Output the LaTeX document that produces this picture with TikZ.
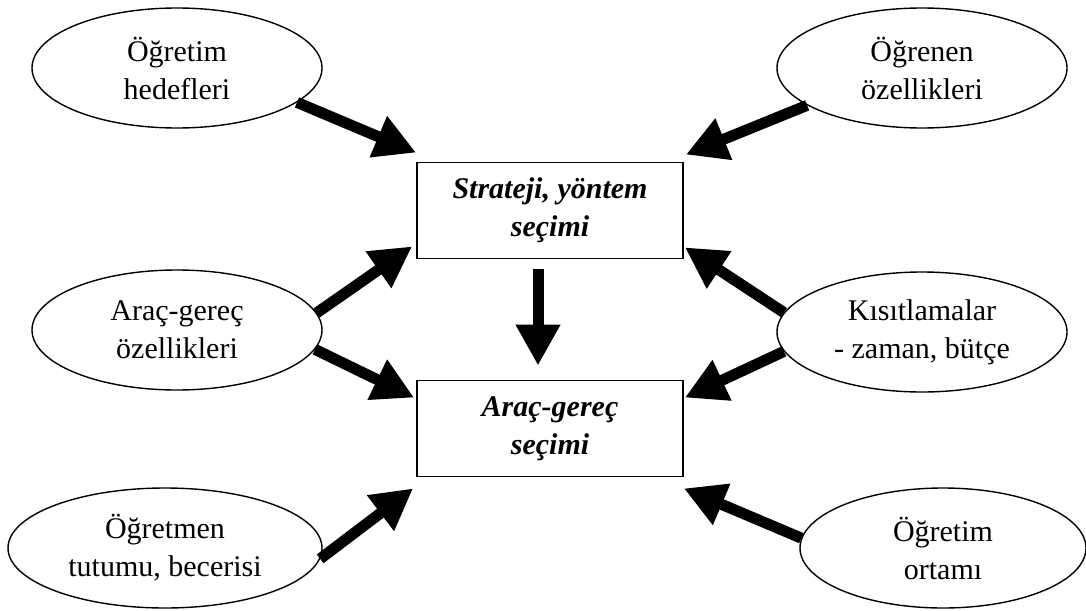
\documentclass[tikz,border=0pt]{standalone}
\usepackage{fontspec}
\setmainfont{Liberation Serif}
\usetikzlibrary{arrows.meta,calc,shapes.geometric}
\begin{document}
\begin{tikzpicture}[x=1pt,y=-1pt,
  oval/.style={ellipse,draw,line width=1.4pt,inner sep=0pt,
    minimum width=290pt,minimum height=120pt,align=center,
    font=\fontsize{30}{38}\selectfont},
  choice/.style={rectangle,draw,line width=1.8pt,inner sep=0pt,
    minimum width=266pt,minimum height=96pt,align=center,
    font=\fontsize{30}{38}\selectfont\bfseries\itshape},
  bigarrow/.style={line width=11pt,-{Triangle[length=41pt,width=42pt]}}]

\useasboundingbox (0,0) rectangle (1086,610);

% factors
\node[oval] (e1) at (177,68) {Öğretim\\hedefleri};
\node[oval] (e2) at (922,68) {Öğrenen\\özellikleri};
\node[oval] (e3) at (177,330) {Araç-gereç\\özellikleri};
\node[oval] (e4) at (922,332) {Kısıtlamalar\\- zaman, bütçe};
\node[oval,minimum width=314pt] (e5) at (165,548) {Öğretmen\\tutumu, becerisi};
\node[oval,minimum width=286pt] (e6) at (943,548) {Öğretim\\ortamı};

% decisions
\node[choice] (s1) at (550,210.5) {Strateji, yöntem\\seçimi};
\node[choice] (s2) at (550,428.5) {Araç-gereç\\seçimi};

% arrow tips beside the boxes
\coordinate (t1) at ($(s1.north west)+(0,-9)$);
\coordinate (t2) at ($(s1.north east)+(2,-7)$);
\coordinate (t3) at ($(s1.south west)+(-4,-13)$);
\coordinate (t5) at ($(s1.south east)+(1,-12)$);
\coordinate (t4) at ($(s2.north west)+(-2,18)$);
\coordinate (t6) at ($(s2.north east)+(1,18)$);
\coordinate (t7) at ($(s2.south west)+(-3,11)$);
\coordinate (t8) at ($(s2.south east)+(0,11)$);

\draw[bigarrow] (e1.-16) -- (t1);
\draw[bigarrow] (e2.198) -- (t2);
\draw[bigarrow] (e3.7) -- (t3);
\draw[bigarrow] (e3.-8) -- (t4);
\draw[bigarrow] (e4.172) -- (t5);
\draw[bigarrow] (e4.188) -- (t6);
\draw[bigarrow] (e5.-4) -- (t7);
\draw[bigarrow] (e6.176) -- (t8);

% strategy leads to the choice of materials
\draw[bigarrow] ($(s1.south)+(-12,10)$) -- ($(s2.north)+(-12,-14)$);
\end{tikzpicture}
\end{document}
